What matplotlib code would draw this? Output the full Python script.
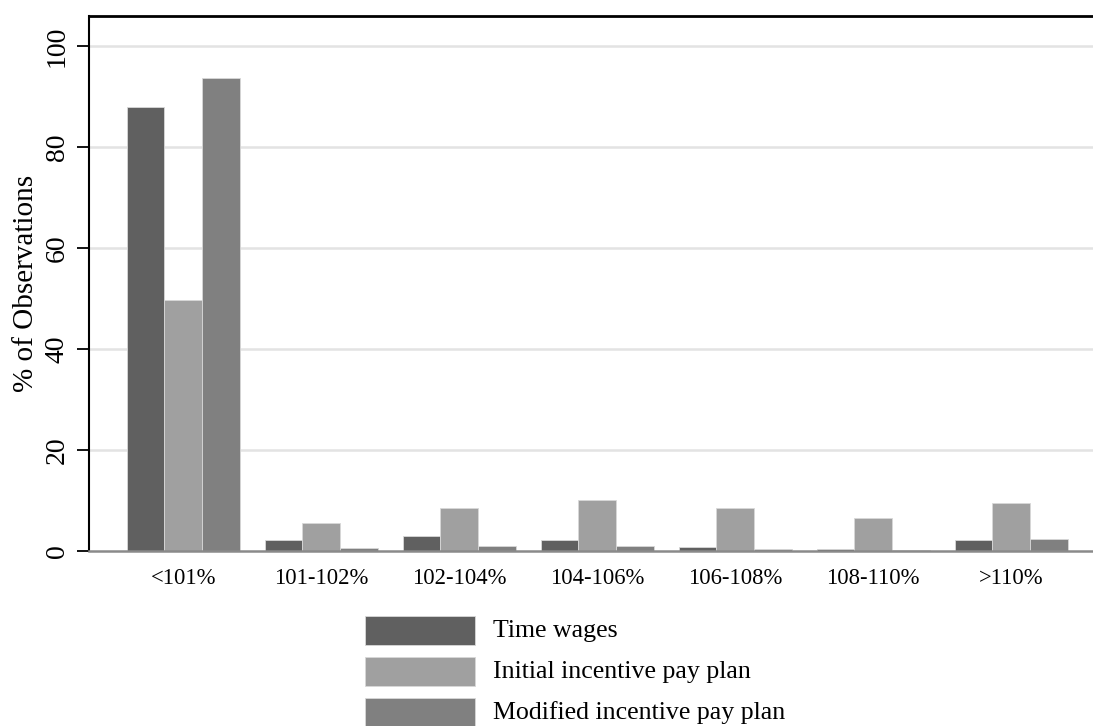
import matplotlib
matplotlib.use("Agg")
import matplotlib.pyplot as plt
import numpy as np
from matplotlib.patches import Rectangle

categories = ["<101%", "101-102%", "102-104%", "104-106%", "106-108%", "108-110%", ">110%"]
time_wages = [88.0, 2.2, 2.9, 2.1, 0.7, 0.3, 2.2]
initial_plan = [49.7, 5.5, 8.5, 10.2, 8.5, 6.6, 9.6]
modified_plan = [93.7, 0.5, 0.9, 0.9, 0.4, 0.1, 2.3]
series_names = ["Time wages", "Initial incentive pay plan", "Modified incentive pay plan"]
colors = ["#606060", "#a0a0a0", "#808080"]
yticks = [0, 20, 40, 60, 80, 100]

plt.rcParams['font.family'] = ['Liberation Serif', 'DejaVu Serif']

fig = plt.figure(figsize=(10.93, 7.26), dpi=100)
W, H = 1093, 726
ax = fig.add_axes([89 / W, 1 - 551 / H, (1093 - 89) / W, (551 - 16) / H])

x = np.arange(len(categories))
bw = 0.2725
for i, (vals, c) in enumerate(zip([time_wages, initial_plan, modified_plan], colors)):
    ax.bar(x + (i - 1) * bw, vals, width=bw, color=c, edgecolor="#d8d8d8", linewidth=0.6, zorder=3)

ax.set_xlim(-0.683, 6.592)
ax.set_ylim(0, 106)
ax.set_yticks(yticks)
ax.set_yticklabels([str(t) for t in yticks], rotation=90, va="center", fontsize=20)
ax.set_xticks(x)
ax.set_xticklabels(categories, fontsize=16.3)
ax.tick_params(axis="x", length=0, pad=12)
ax.tick_params(axis="y", length=8.5, width=1.3, pad=5.5, direction="out")
for t in yticks[1:]:
    ax.axhline(t, color="#e3e3e3", linewidth=1.8, zorder=1)

ax.spines["right"].set_visible(False)
ax.spines["left"].set_linewidth(1.5)
ax.spines["top"].set_linewidth(2.0)
ax.spines["bottom"].set_color("#8a8a8a")
ax.spines["bottom"].set_linewidth(1.8)
ax.spines["bottom"].set_zorder(4)

ax.set_ylabel("% of Observations", fontsize=21, labelpad=4)

# legend drawn as key boxes + labels below the plot
row_tops = [616, 657, 698]
for name, c, top in zip(series_names, colors, row_tops):
    fig.add_artist(Rectangle((365 / W, 1 - (top + 29) / H), 110 / W, 29 / H,
                             transform=fig.transFigure, facecolor=c,
                             edgecolor="#d8d8d8", linewidth=0.6))
    fig.text(493 / W, 1 - (top + 15) / H, name, fontsize=18.6, va="center", ha="left")

fig.savefig("out.png", dpi=100)
